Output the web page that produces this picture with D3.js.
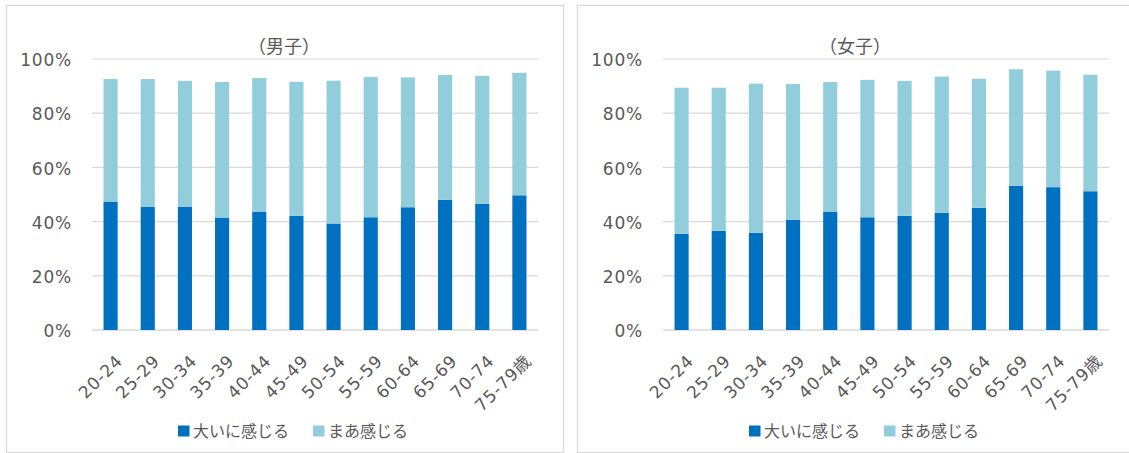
<!DOCTYPE html>
<html>
<head>
<meta charset="utf-8">
<script src="https://cdn.jsdelivr.net/npm/d3@7"></script>
<style>
  html, body { margin: 0; padding: 0; background: #fff; }
  svg { display: block; }
  text { font-family: "Noto Sans CJK JP", "Noto Sans", sans-serif; fill: #595959; }
  text.num { font-family: "DejaVu Sans", "Noto Sans CJK JP", sans-serif; }
</style>
</head>
<body>
<svg id="chart" width="1129" height="453"></svg>
<script>
// 年齢階級
const ages = ["20-24", "25-29", "30-34", "35-39", "40-44", "45-49",
              "50-54", "55-59", "60-64", "65-69", "70-74", "75-79歳"];
const seriesNames = ["大いに感じる", "まあ感じる"];
const yTicks = [0, 20, 40, 60, 80, 100];

// (男子)
const maleStrong = [47.4, 45.5, 45.5, 41.5, 43.7, 42.1, 39.3, 41.6, 45.3, 48.1, 46.6, 49.7];
const maleSome   = [45.2, 47.1, 46.4, 50.0, 49.3, 49.5, 52.7, 51.8, 47.9, 46.0, 47.2, 45.2];
// (女子)
const femaleStrong = [35.5, 36.6, 35.9, 40.7, 43.7, 41.6, 42.1, 43.2, 45.1, 53.2, 52.7, 51.2];
const femaleSome   = [53.9, 52.8, 55.0, 50.1, 47.8, 50.7, 49.8, 50.3, 47.6, 43.0, 43.0, 43.0];

const dark = "#0070c0", light = "#92cddc", grid = "#d9d9d9";
const colors = [dark, light];

const svg = d3.select("#chart");

function panel(x0, title, strong, some) {
  const g = svg.append("g").attr("transform", `translate(${x0},0)`);
  // 枠
  g.append("rect").attr("x", 0.5).attr("y", 5.5).attr("width", 557).attr("height", 447)
    .attr("fill", "#fff").attr("stroke", grid).attr("stroke-width", 1.3);

  const left = 86, right = 532, top = 59, bottom = 330;
  const x = d3.scaleBand().domain(ages).range([left, right]).paddingInner(0.62).paddingOuter(0.31);
  const y = d3.scaleLinear().domain([0, 100]).range([bottom, top]);

  // グリッド
  g.append("g").selectAll("line").data(yTicks).join("line")
    .attr("x1", left).attr("x2", right)
    .attr("y1", d => y(d)).attr("y2", d => y(d))
    .attr("stroke", grid).attr("stroke-width", d => d === 0 ? 1.6 : 1.2);

  g.append("g").selectAll("text").data(yTicks).join("text")
    .attr("class", "num")
    .attr("x", left - 20).attr("y", d => y(d) + 1).attr("dy", "0.36em")
    .attr("text-anchor", "end").attr("font-size", 17).attr("letter-spacing", 0.8)
    .text(d => d + "%");

  const rows = ages.map((a, i) => ({ age: a, s0: strong[i], s1: some[i] }));
  const stack = d3.stack().keys(["s0", "s1"])(rows);

  g.append("g").selectAll("g").data(stack).join("g")
    .attr("fill", (d, i) => colors[i])
    .selectAll("rect").data(d => d).join("rect")
    .attr("x", d => x(d.data.age))
    .attr("width", x.bandwidth())
    .attr("y", d => y(d[1]))
    .attr("height", d => y(d[0]) - y(d[1]));

  // x軸ラベル
  const ax = g.append("g").attr("transform", `translate(0,${bottom})`)
    .call(d3.axisBottom(x).tickSize(0).tickPadding(0));
  ax.select(".domain").remove();
  ax.selectAll("text")
    .attr("class", "num")
    .attr("font-size", 17).attr("letter-spacing", 0.8).attr("fill", "#595959")
    .attr("text-anchor", "end")
    .attr("dy", null).attr("y", 0)
    .attr("transform", "translate(4,23) rotate(-45)")
    .attr("dominant-baseline", "hanging");

  // タイトル
  g.append("text").attr("x", 278).attr("y", 45).attr("text-anchor", "middle")
    .attr("dominant-baseline", "central")
    .attr("font-size", 18).text(title);

  // 凡例
  const legX = [172, 307];
  const lg = g.append("g").selectAll("g").data(seriesNames).join("g")
    .attr("transform", (d, i) => `translate(${legX[i]},431)`);
  lg.append("rect").attr("x", 0).attr("y", -5.5).attr("width", 11.5).attr("height", 11)
    .attr("fill", (d, i) => colors[i]);
  lg.append("text").attr("x", 15).attr("dy", "0.35em").attr("font-size", 16).text(d => d);
}

panel(6, "（男子）", maleStrong, maleSome);
panel(577, "（女子）", femaleStrong, femaleSome);
</script>
</body>
</html>
